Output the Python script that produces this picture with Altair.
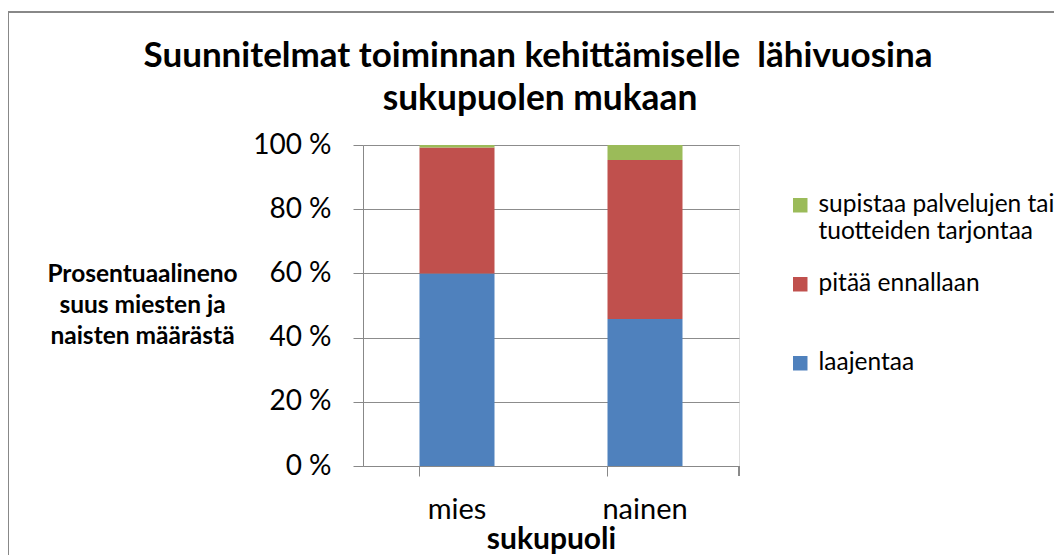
import altair as alt
import pandas as pd

genders = ["mies", "nainen"]
categories = ["laajentaa", "pitää ennallaan", "supistaa palvelujen tai tuotteiden tarjontaa"]
laajentaa = [60.0, 45.8]
pitaa = [39.2, 49.5]
supistaa = [0.8, 4.7]
colors = {"laajentaa": "#4F81BD", "pitää ennallaan": "#C0504D",
          "supistaa palvelujen tai tuotteiden tarjontaa": "#9BBB59"}
title_lines = ["Suunnitelmat toiminnan kehittämiselle\u00a0 lähivuosina", "sukupuolen mukaan"]

rows = []
for i, g in enumerate(genders):
    for k, (c, vals) in enumerate(zip(categories, [laajentaa, pitaa, supistaa])):
        rows.append({"sukupuoli": g, "luokka": c, "arvo": vals[i], "ord": k})
df = pd.DataFrame(rows)

FONT = "Lato"
legend_domain = [categories[2], categories[1], categories[0]]

bars = alt.Chart(df).mark_bar(size=75).encode(
    x=alt.X("sukupuoli:N", sort=genders,
            scale=alt.Scale(paddingInner=0.6, paddingOuter=0.3),
            axis=alt.Axis(title="sukupuoli", labelAngle=0, labelFontSize=29,
                          labelPadding=19, labelFont=FONT, labelColor="#000",
                          titleFont=FONT, titleFontSize=30, titleFontWeight="bold",
                          titleColor="#000", titleBaseline="alphabetic", titleY=82,
                          domainColor="#888", tickColor="#888", tickSize=10,
                          bandPosition=0)),
    y=alt.Y("arvo:Q", stack="zero",
            scale=alt.Scale(domain=[0, 100]),
            axis=alt.Axis(title=["Prosentuaalineno", "suus miesten ja", "naisten määrästä"],
                          values=[0, 20, 40, 60, 80, 100],
                          labelExpr="datum.value + ' %'",
                          labelFontSize=28, labelFont=FONT, labelColor="#000",
                          labelPadding=22,
                          titleAngle=0, titleAlign="center", titleBaseline="alphabetic",
                          titleX=-221, titleY=136, titleLineHeight=31,
                          titleFont=FONT, titleFontSize=24.5, titleFontWeight="bold",
                          titleColor="#000",
                          domainColor="#888", tickColor="#888", tickSize=10,
                          gridColor="#8c8c8c", gridWidth=1)),
    color=alt.Color("luokka:N",
                    scale=alt.Scale(domain=legend_domain,
                                    range=[colors[c] for c in legend_domain]),
                    legend=alt.Legend(title=None, orient="none", legendX=425, legendY=48,
                                      symbolType="square", symbolSize=210,
                                      symbolStrokeWidth=0,
                                      labelFont=FONT, labelFontSize=24.5, labelColor="#000",
                                      labelExpr="length(datum.label) > 30 ? ['supistaa palvelujen tai', 'tuotteiden tarjontaa'] : [datum.label, ' ']",
                                      labelLimit=400, labelOffset=6, rowPadding=27)),
    order=alt.Order("ord:Q"),
)

frame = alt.Chart(df).mark_rect(filled=False, stroke="#888", strokeWidth=2).encode(
    x=alt.value(-355), x2=alt.value(800), y=alt.value(-133), y2=alt.value(500))

end_tick = alt.Chart(df).mark_rule(color="#888").encode(
    x=alt.value(376), y=alt.value(321), y2=alt.value(331))

tdf = pd.DataFrame({"t": title_lines, "i": [0, 1]})
title1 = alt.Chart(tdf).transform_filter("datum.i == 0").mark_text(
    font=FONT, fontSize=35, fontWeight="bold", color="#000", align="center",
    baseline="alphabetic").encode(text="t:N", x=alt.value(175), y=alt.value(-78))
title2 = alt.Chart(tdf).transform_filter("datum.i == 1").mark_text(
    font=FONT, fontSize=35.3, fontWeight="bold", color="#000", align="center",
    baseline="alphabetic").encode(text="t:N", x=alt.value(177), y=alt.value(-35))

chart = alt.layer(frame, bars, end_tick, title1, title2).properties(
    width=376, height=321,
    autosize=alt.AutoSizeParams(type="none"),
    padding={"left": 355, "top": 137, "right": 315, "bottom": 120},
).configure_view(stroke=None).configure(background="white")

chart.save("out.html", embed_options={"renderer": "svg", "actions": False})
